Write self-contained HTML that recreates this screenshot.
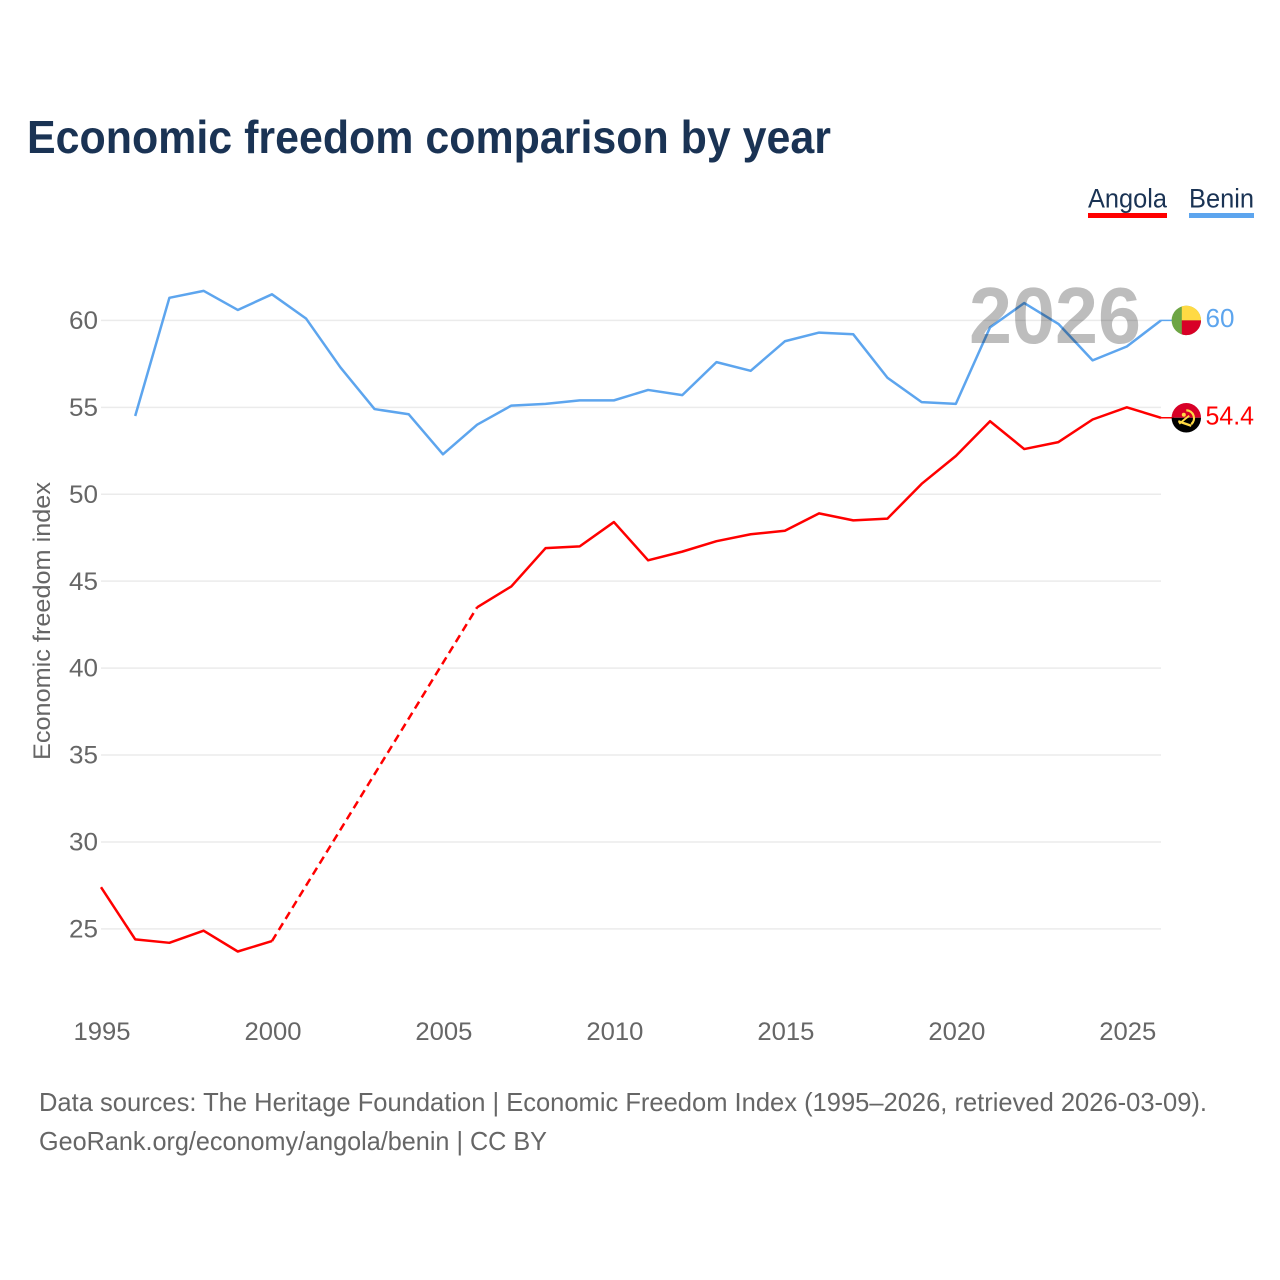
<!DOCTYPE html>
<html>
<head>
<meta charset="utf-8">
<title>Economic freedom comparison by year</title>
<style>
html,body{margin:0;padding:0;background:#fff;}
svg{display:block;font-family:"Liberation Sans",sans-serif;}
</style>
</head>
<body>
<svg id="chart" width="1280" height="1280" viewBox="0 0 1280 1280" xmlns="http://www.w3.org/2000/svg">
  <rect width="1280" height="1280" fill="#fff"/>
  <text x="27" y="153" font-size="46" font-weight="700" fill="#1a3354" textLength="804" lengthAdjust="spacingAndGlyphs">Economic freedom comparison by year</text>

  <g>
    <text x="1088" y="207.5" font-size="27" fill="#1a3354" textLength="79" lengthAdjust="spacingAndGlyphs">Angola</text>
    <rect x="1088" y="213" width="79" height="5" fill="#ff0000"/>
  </g>
  <g>
    <text x="1189" y="207.5" font-size="27" fill="#1a3354" textLength="65" lengthAdjust="spacingAndGlyphs">Benin</text>
    <rect x="1189" y="213" width="65" height="5" fill="#5da5ee"/>
  </g>

  <g id="grid"></g>
  <g id="yticks"></g>
  <g id="xticks"></g>
  <text transform="translate(50,760) rotate(-90)" font-size="24" fill="#666" textLength="278" lengthAdjust="spacingAndGlyphs">Economic freedom index</text>

  <g id="series"></g>

  <text x="969" y="343" font-size="80" font-weight="700" fill="#000" fill-opacity="0.26" textLength="172" lengthAdjust="spacingAndGlyphs">2026</text>

  <g id="ends"></g>

  <text x="39" y="1111" font-size="26" fill="#666" textLength="1168" lengthAdjust="spacingAndGlyphs">Data sources: The Heritage Foundation | Economic Freedom Index (1995–2026, retrieved 2026-03-09).</text>
  <text x="39" y="1150" font-size="26" fill="#666" textLength="508" lengthAdjust="spacingAndGlyphs">GeoRank.org/economy/angola/benin | CC BY</text>
</svg>
<script>
const years = [1995,1996,1997,1998,1999,2000,2001,2002,2003,2004,2005,2006,2007,2008,2009,2010,2011,2012,2013,2014,2015,2016,2017,2018,2019,2020,2021,2022,2023,2024,2025,2026];
const angolaValues = [27.4,24.4,24.2,24.9,23.7,24.3,null,null,null,null,null,43.5,44.7,46.9,47.0,48.4,46.2,46.7,47.3,47.7,47.9,48.9,48.5,48.6,50.6,52.2,54.2,52.6,53.0,54.3,55.0,54.4];
const beninValues = [null,54.5,61.3,61.7,60.6,61.5,60.1,57.3,54.9,54.6,52.3,54.0,55.1,55.2,55.4,55.4,56.0,55.7,57.6,57.1,58.8,59.3,59.2,56.7,55.3,55.2,59.6,61.0,59.8,57.7,58.5,60.0];
const yTickValues = [25,30,35,40,45,50,55,60];
const xTickValues = [1995,2000,2005,2010,2015,2020,2025];

const NS = 'http://www.w3.org/2000/svg';
const xScale = function (year) { return 101 + (year - 1995) * (1060 / 31); };
const yScale = function (value) { return 928.9 - (value - 25) * (608.5 / 35); };

function make(tag, attrs, parent) {
  const el = document.createElementNS(NS, tag);
  Object.keys(attrs).forEach(function (k) { el.setAttribute(k, attrs[k]); });
  parent.appendChild(el);
  return el;
}

const grid = document.getElementById('grid');
const yticks = document.getElementById('yticks');
const xticks = document.getElementById('xticks');
const seriesGroup = document.getElementById('series');
const ends = document.getElementById('ends');

yTickValues.forEach(function (v) {
  const line = make('line', {x1: 101, x2: 1161, y1: yScale(v), y2: yScale(v), stroke: '#ebebeb', 'stroke-width': 1.5}, grid);
  
  
  const label = make('text', {x: 98, y: yScale(v) + 8.6, 'text-anchor': 'end', 'font-size': 25, fill: '#666', textLength: 29, lengthAdjust: 'spacingAndGlyphs'}, yticks);
  
  
  label.textContent = String(v);
});

xTickValues.forEach(function (yr) {
  const label = make('text', {x: xScale(yr) + 1, y: 1040, 'text-anchor': 'middle', 'font-size': 25, fill: '#666', textLength: 57, lengthAdjust: 'spacingAndGlyphs'}, xticks);
  
  
  label.textContent = String(yr);
});

function drawSeries(values, color, key) {
  let solid = '';
  let dashed = '';
  let prev = null;
  values.forEach(function (v, i) {
    if (v === null) return;
    const pt = xScale(years[i]).toFixed(2) + ',' + yScale(v).toFixed(2);
    if (prev === null) {
      solid += 'M' + pt;
    } else if (prev.i === i - 1) {
      solid += 'L' + pt;
    } else {
      dashed += 'M' + prev.pt + 'L' + pt;
      solid += 'M' + pt;
    }
    prev = {i: i, pt: pt};
  });
  const line = make('path', {d: solid, fill: 'none', stroke: color, 'stroke-width': 2.5, 'stroke-linejoin': 'round'}, seriesGroup);
  
  
  if (dashed) {
    const gap = make('path', {d: dashed, fill: 'none', stroke: color, 'stroke-width': 2.5, 'stroke-dasharray': '8 5'}, seriesGroup);
    
    
  }
  const lastValue = values[values.length - 1];
  const lastY = yScale(lastValue);
  const stub = make('line', {x1: 1161, x2: 1174, y1: lastY, y2: lastY, stroke: color, 'stroke-width': 1.5}, ends);
  
  
  const valueLabel = make('text', {x: 1205.5, y: lastY + 6.5, 'font-size': 26, fill: color, textLength: String(lastValue).length === 2 ? 29 : 48.5, lengthAdjust: 'spacingAndGlyphs'}, ends);
  
  
  valueLabel.textContent = String(lastValue);
  return lastY;
}

const angolaEndY = drawSeries(angolaValues, '#ff0000', 'angola');
const beninEndY = drawSeries(beninValues, '#5da5ee', 'benin');

function flagGroup(name, cy) {
  const g = make('g', {transform: 'translate(1186.3,' + cy + ')'}, ends);
  
  
  return g;
}

const beninFlag = flagGroup('benin-flag', beninEndY);
make('circle', {r: 14.7, fill: '#6da544'}, beninFlag);
make('path', {d: 'M-4.5 0V-14A14.7 14.7 0 0 1 14.7 0Z', fill: '#ffda44'}, beninFlag);
make('path', {d: 'M-4.5 0V14A14.7 14.7 0 0 0 14.7 0Z', fill: '#d80027'}, beninFlag);

const angolaFlag = flagGroup('angola-flag', angolaEndY);
make('path', {d: 'M-14.7 0A14.7 14.7 0 0 1 14.7 0Z', fill: '#d80027'}, angolaFlag);
make('path', {d: 'M-14.7 0A14.7 14.7 0 0 0 14.7 0Z', fill: '#000'}, angolaFlag);
make('path', {d: 'M0 -7.5A8 8 0 0 1 5 6.5', fill: 'none', stroke: '#ffda44', 'stroke-width': 2.2}, angolaFlag);
make('path', {d: 'M-8 3.5L5 8', fill: 'none', stroke: '#ffda44', 'stroke-width': 2.4}, angolaFlag);
make('path', {d: 'M-7 6L-1 1L3 -2', fill: 'none', stroke: '#ffda44', 'stroke-width': 1.8}, angolaFlag);
make('circle', {cx: -2.5, cy: -3, r: 2, fill: '#ffda44'}, angolaFlag);
</script>
</body>
</html>
